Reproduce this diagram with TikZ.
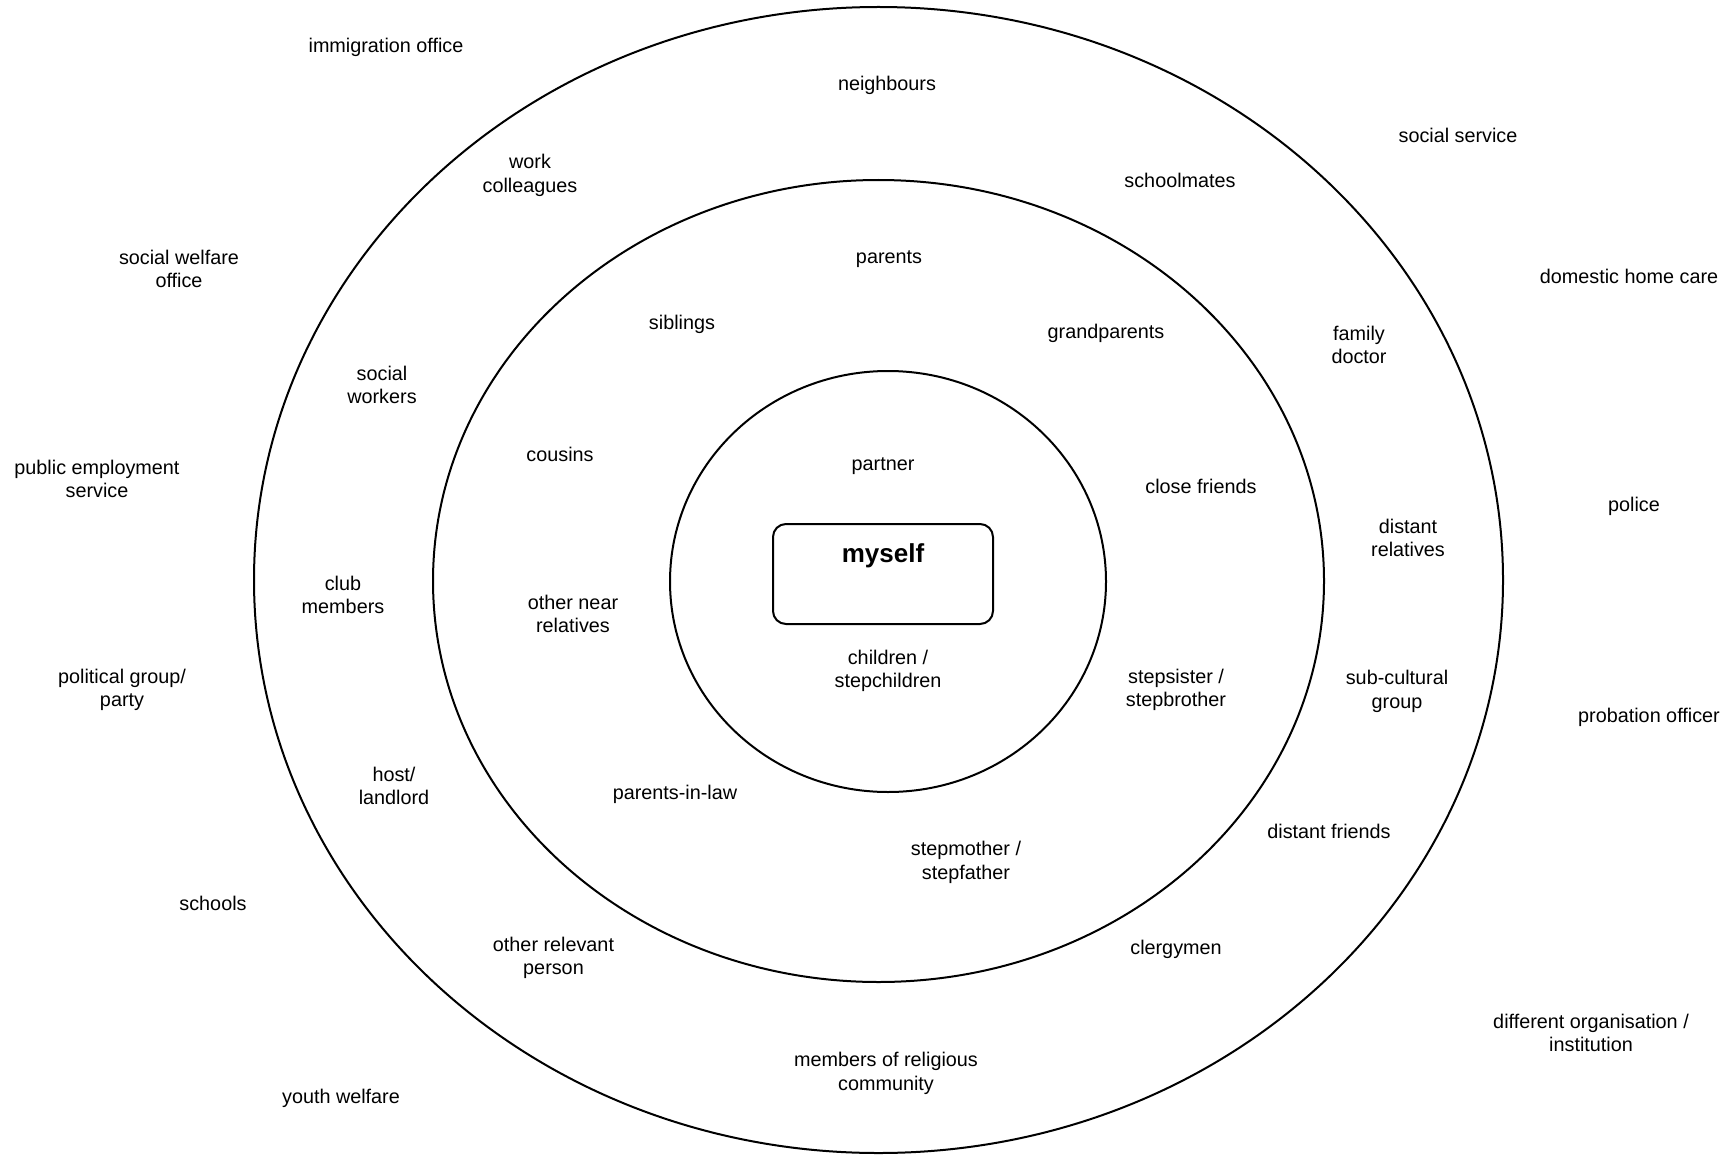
\documentclass[tikz,border=0pt]{standalone}
\usepackage{fontspec}
\setmainfont{Liberation Sans}
\usetikzlibrary{shapes.geometric}
\begin{document}
\begin{tikzpicture}[x=0.5pt,y=-0.5pt,
  ring/.style={draw,ellipse,line width=1pt,inner sep=0pt,outer sep=0pt},
  lbl/.style={align=center,inner sep=0pt,font=\fontsize{9.9}{11.6}\selectfont,yshift=-0.4pt},
  selfbox/.style={draw,rectangle,rounded corners=6.5pt,line width=1pt,inner sep=0pt,minimum width=110pt,minimum height=50pt},
  selflbl/.style={inner sep=0pt,font=\fontsize{13}{15}\selectfont\bfseries}]
\useasboundingbox (0,0) rectangle (1733,1155);
% rings
\node[ring,minimum width=624.5pt,minimum height=573pt] (outer) at (878.5,580) {};
\node[ring,minimum width=445.5pt,minimum height=401pt] (middle) at (878.5,581) {};
\node[ring,minimum width=218pt,minimum height=210.5pt] (inner) at (888,581.5) {};
\node[selfbox] (me) at (883,574) {};
\node[selflbl] (myself) at (883,556) {myself};
% inner circle
\node[lbl] (partner) at (883,465) {partner};
\node[lbl] (children) at (888,670) {children /\\stepchildren};
% middle ring
\node[lbl] (parents) at (889,258) {parents};
\node[lbl] (siblings) at (682,324) {siblings};
\node[lbl] (grandparents) at (1106,333) {grandparents};
\node[lbl] (cousins) at (560,454) {cousins};
\node[lbl] (closefriends) at (1201,486) {close friends};
\node[lbl] (othernear) at (573,613.5) {other near\\relatives};
\node[lbl] (stepsister) at (1176,689) {stepsister /\\stepbrother};
\node[lbl] (inlaw) at (675,794) {parents-in-law};
\node[lbl] (stepmother) at (966,861.5) {stepmother /\\stepfather};
% outer ring
\node[lbl] (neighbours) at (887,85) {neighbours};
\node[lbl] (work) at (530,174.5) {work\\colleagues};
\node[lbl] (schoolmates) at (1180,180) {schoolmates};
\node[lbl] (socialworkers) at (382,384) {social\\workers};
\node[lbl] (doctor) at (1359,344.5) {family\\doctor};
\node[lbl] (club) at (343,594) {club\\members};
\node[lbl] (distantrel) at (1408,537.5) {distant\\relatives};
\node[lbl] (subcult) at (1397,690.5) {sub-cultural\\group};
\node[lbl] (host) at (394,785.5) {host/\\landlord};
\node[lbl] (distantfr) at (1329,831) {distant friends};
\node[lbl] (otherrel) at (553.5,957) {other relevant\\person};
\node[lbl] (clergy) at (1176,949) {clergymen};
\node[lbl] (religious) at (886,1072.5) {members of religious\\community};
% outside
\node[lbl] (immigration) at (386,46.5) {immigration office};
\node[lbl] (socialservice) at (1458,135) {social service};
\node[lbl] (homecare) at (1629,276) {domestic home care};
\node[lbl] (welfareoffice) at (179,268.5) {social welfare\\office};
\node[lbl] (employment) at (97,478.5) {public employment\\service};
\node[lbl] (police) at (1634,506) {police};
\node[lbl] (political) at (122,689) {political group/\\party};
\node[lbl] (probation) at (1649,717) {probation officer};
\node[lbl] (schools) at (213,903) {schools};
\node[lbl] (youth) at (341,1098) {youth welfare};
\node[lbl] (organisation) at (1591,1032.5) {different organisation /\\institution};
\end{tikzpicture}
\end{document}
